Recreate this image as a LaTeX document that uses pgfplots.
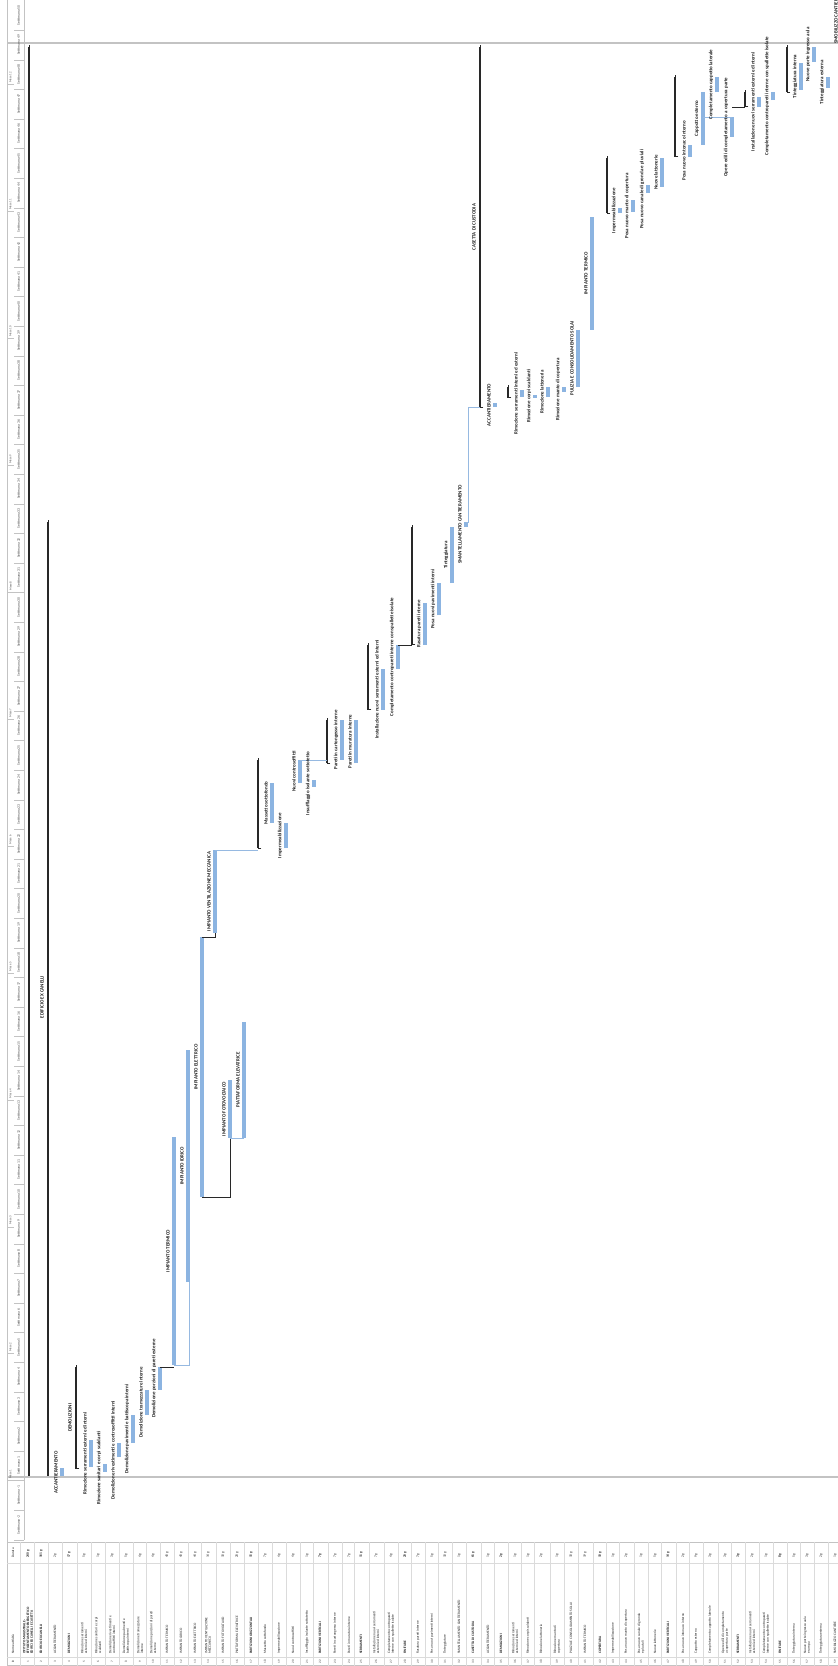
\documentclass[border=0pt]{standalone}
\usepackage{pgfplots}
\pgfplotsset{compat=1.18}
\usepackage{pgfplotstable}
\usepackage{fontspec}
\setmainfont{Carlito}

\definecolor{barblue}{RGB}{140,180,225}
\definecolor{sumdark}{RGB}{40,40,40}
\definecolor{gridgray}{RGB}{195,195,195}
\definecolor{linkblue}{RGB}{150,185,225}
\definecolor{txt}{RGB}{30,30,30}

\protected\def\nl{\\}

% Gantt chart turned on its side: x = row position (px from the left edge),
% s, e = start and end of each bar, calendar days from the project start
\pgfplotstableread[col sep=semicolon]{
x;s;e;lab
62;0;2.1;ACCANTIERAMENTO
91;2.4;8.75;Rimozione serramenti esterni ed interni
105;1.2;3.1;Rimozione sanitari e corpi scaldanti
119;4.7;8.0;Demolizione rivestimenti e controsoffitti interni
133;8.0;14.7;Demolizione pavimenti e battiscopa interni
147;14.7;20.6;Demolizione tramezzature interne
160;20.6;26.0;Demolizione porzioni di pareti esterne
174;26.5;80.4;IMPIANTO TERMICO
188;46.1;101.0;IMPIANTO IDRICO
202;66.2;127.7;IMPIANTO ELETTRICO
215;128.6;148.3;IMPIANTO VENTILAZIONE MECCANICA
230;80.2;93.9;IMPIANTO FOTOVOLTAICO
244;80.2;107.6;PIATTAFORMA ELEVATRICE
272;154.7;164.1;Massetto sottofondo
286;148.7;154.7;Impermeabilizzazione
300;164.1;169.6;Nuovi controsoffitti
314;163.2;164.8;Insufflaggio isolante sottotetto
342;169.6;179.0;Pareti in cartongesso interne
356;168.8;179.0;Pareti in muratura interne
383;181.4;191.1;Installazione nuovi serramenti esterni ed interni
398;191.1;196.8;Completamento contropareti interne con spallette isolate
425;196.8;206.7;Rasatura pareti interne
439;203.8;211.4;Posa nuovi pavimenti interni
452;211.4;224.7;Tinteggiatura
466;224.7;225.8;SMANTELLAMENTO CANTIERAMENTO
495;253.0;254.0;ACCANTIERAMENTO
522;255.4;257.1;Rimozione serramenti interni ed esterni
535;255.2;255.9;Rimozione corpi scaldanti
548;255.4;257.8;Rimozione lattoneria
564;256.6;257.8;Rimozione manto di copertura
578;257.8;271.3;PULIZIA E CONSOLIDAMENTO SOLAI
592;271.3;298.0;IMPIANTO TERMICO
620;298.9;300.1;Impermeabilizzazione
633;299.2;302.0;Posa nuovo manto di copertura
648;303.6;305.5;Posa nuovo canale di gronda e pluviali
662;305.1;311.9;Nuove lattonerie
690;312.2;315.1;Posa nuovo intonaco interno
703;315.1;327.5;Cappotto esterno
717;327.5;331.1;Completamento cappotto laterale
732;316.9;321.6;Opere edili di completamento a copertura parte
759;324.0;326.4;Installazione nuovi serramenti esterni ed interni
773;325.6;327.5;Completamento contropareti interne con spallette isolate
801;328.0;334.4;Tinteggiatura interna
814;334.6;338.2;Nuove porte ingresso aula
828;328.5;331.1;Tinteggiatura esterna
842;341.0;348.0;SMOBILIZZO CANTIERE
}\tasktab

% summary rows (black brackets), l = 1 if the bar carries a label,
% ly = where the label sits (days)
\pgfplotstableread[col sep=semicolon]{
x;s;e;l;ly;lab
29;0;338.2;0;0;-
48;0;225.8;1;113.5;EDIFICIO EX CANELLI
76;1.9;26.0;1;14.0;DEMOLIZIONI
258;148.7;169.6;0;0;-
327;168.8;179.0;0;0;-
368;181.4;196.8;0;0;-
412;196.8;224.7;0;0;-
480;253.0;338.2;1;295.6;CASETTA DI CUSTODIA
508;255.2;257.8;0;0;-
607;298.9;311.9;0;0;-
675;312.2;331.1;0;0;-
745;324.0;327.5;0;0;-
787;327.5;338.2;0;0;-
}\sumtab

% task table under the chart, f = 1 for summary rows (bold)
\pgfplotstableread[col sep=semicolon]{
x;f;name;dur
29;1;ISTITUTO MAGISTRALE -\nl EFFICIENTAMENTO ENERGETICO\nl EDIFICI EX CANELLI E CASETTA;240 g
48;1;EDIFICIO EX CANELLI;161 g
62;0;ACCANTIERAMENTO;2 g
76;1;DEMOLIZIONI;17 g
91;0;Rimozione serramenti\nl esterni ed interni;5 g
105;0;Rimozione sanitari e corpi\nl scaldanti;1 g
119;0;Demolizione rivestimenti e\nl controsoffitti interni;3 g
133;0;Demolizione pavimenti e\nl battiscopa interni;5 g
147;0;Demolizione tramezzature\nl interne;4 g
160;0;Demolizione porzioni di pareti\nl esterne;4 g
174;0;IMPIANTO TERMICO;40 g
188;0;IMPIANTO IDRICO;40 g
202;0;IMPIANTO ELETTRICO;44 g
215;0;IMPIANTO VENTILAZIONE\nl MECCANICA;14 g
230;0;IMPIANTO FOTOVOLTAICO;10 g
244;0;PIATTAFORMA ELEVATRICE;20 g
258;1;PARTIZIONI ORIZZONTALI;15 g
272;0;Massetto sottofondo;7 g
286;0;Impermeabilizzazione;4 g
300;0;Nuovi controsoffitti;4 g
314;0;Insufflaggio isolante sottotetto;1 g
327;1;PARTIZIONI VERTICALI;7 g
342;0;Pareti in cartongesso interne;7 g
356;0;Pareti in muratura interne;7 g
368;1;SERRAMENTI;11 g
383;0;Installazione nuovi serramenti\nl esterni ed interni;7 g
398;0;Completamento contropareti\nl interne con spallette isolate;4 g
412;1;FINITURE;20 g
425;0;Rasatura pareti interne;7 g
439;0;Posa nuovi pavimenti interni;5 g
452;0;Tinteggiature;10 g
466;0;SMANTELLAMENTO CANTIERAMENTO;1 g
480;1;CASETTA DI CUSTODIA;61 g
495;0;ACCANTIERAMENTO;1 g
508;1;DEMOLIZIONI;2 g
522;0;Rimozione serramenti\nl esterni ed interni;1 g
535;0;Rimozione corpi scaldanti;1 g
548;0;Rimozione lattoneria;2 g
564;0;Rimozione manto di\nl copertura;1 g
578;0;PULIZIA E CONSOLIDAMENTO SOLAI;10 g
592;0;IMPIANTO TERMICO;19 g
607;1;COPERTURA;10 g
620;0;Impermeabilizzazione;1 g
633;0;Posa nuovo manto di copertura;2 g
648;0;Posa nuovo canale di gronda\nl e pluviali;1 g
662;0;Nuove lattonerie;5 g
675;1;PARTIZIONI VERTICALI;14 g
690;0;Posa nuovo intonaco interno;2 g
703;0;Cappotto esterno;9 g
717;0;Completamento cappotto laterale;3 g
732;0;Opere edili di completamento\nl a copertura parte;3 g
745;1;SERRAMENTI;3 g
759;0;Installazione nuovi serramenti\nl esterni ed interni;2 g
773;0;Completamento contropareti\nl interne con spallette isolate;1 g
787;1;FINITURE;8 g
801;0;Tinteggiatura interna;5 g
814;0;Nuove porte ingresso aula\nl e rampa;3 g
828;0;Tinteggiatura esterna;2 g
842;0;SMOBILIZZO CANTIERE;1 g
}\rowtab

\tikzset{
  glab/.style={rotate=90, anchor=center, inner sep=0pt, text=txt,
    font=\fontsize{5}{6}\selectfont\bfseries},
  tlab/.style={rotate=90, anchor=west, inner sep=0pt, text=txt, align=left,
    font=\fontsize{3.5}{3.7}\selectfont},
  hlab/.style={rotate=90, anchor=center, inner sep=0pt, text=black!70,
    font=\fontsize{3.7}{4}\selectfont},
}

\begin{document}
\begin{tikzpicture}
\begin{axis}[
  scale only axis, width=838bp, height=1666bp,
  xmin=0, xmax=838, ymin=-44.70, ymax=349.29,
  hide axis, clip=false,
]
% task bars
\addplot [draw=none, mark=none,
  error bars/.cd, y dir=plus, y explicit, error mark=none,
  error bar style={draw=barblue, line width=4.5bp}]
  table [x=x, y=s, y error expr=\thisrow{e}-\thisrow{s}] {\tasktab};
% summary brackets
\addplot [only marks, mark=-, mark size=1.7bp,
  mark options={draw=sumdark, line width=0.9bp, xshift=1.7bp},
  error bars/.cd, y dir=plus, y explicit, error mark=-,
  error mark options={draw=sumdark, line width=0.9bp, mark size=1.7bp, xshift=1.7bp},
  error bar style={draw=sumdark, line width=1.1bp}]
  table [x=x, y=s, y error expr=\thisrow{e}-\thisrow{s}] {\sumtab};
% links between tasks
\addplot [sumdark, line width=0.5bp, mark=none] coordinates {(160,26.0) (174,26.0)};
\addplot [linkblue, line width=0.6bp, mark=none] coordinates {(174,26.5) (189,26.5) (189,46.1)};
\addplot [sumdark, line width=0.5bp, mark=none] coordinates {(202,66.2) (230,66.2) (230,80.2)};
\addplot [linkblue, line width=0.6bp, mark=none] coordinates {(230,80.2) (244,80.2)};
\addplot [sumdark, line width=0.5bp, mark=none] coordinates {(202,127.7) (215,127.7) (215,128.6)};
\addplot [linkblue, line width=0.6bp, mark=none] coordinates {(215,148.3) (258,148.3)};
\addplot [linkblue, line width=0.6bp, mark=none] coordinates {(300,169.6) (327,169.6)};
\addplot [sumdark, line width=0.5bp, mark=none] coordinates {(398,196.8) (412,196.8)};
\addplot [linkblue, line width=0.6bp, mark=none] coordinates {(466,225.8) (468,225.8) (468,253.0) (480,253.0)};
\addplot [linkblue, line width=0.6bp, mark=none] coordinates {(703,321.6) (732,321.6)};
\addplot [sumdark, line width=0.5bp, mark=none] coordinates {(732,324.0) (745,324.0)};
\end{axis}

% everything below is placed in pixels from the top left corner
\begin{scope}[shift={(current axis.north west)}, x=1bp, y=-1bp]
  % frame, project start and end lines
  \draw[gridgray, line width=0.6bp] (7,0) -- (7,1666);
  \draw[gridgray, line width=0.4bp] (24,0) -- (24,1540);
  \draw[gridgray, line width=1.6bp] (7,43) -- (838,43);
  \draw[gridgray, line width=1.6bp] (7,1477) -- (838,1477);
  % time scale: weeks
  \foreach \p in {-1,...,50}{
    \pgfmathtruncatemacro{\k}{\p<1 ? \p-1 : \p}
    \pgfmathsetmacro{\yb}{1480.5-(\p-1)*29.6}
    \draw[gridgray, line width=0.3bp] (14,\yb) -- (24,\yb);
    \node[hlab] at (18.5,{\yb-14.8}) {Settimana \k};
  }
  % time scale: months
  \foreach \m in {0,...,11}{
    \pgfmathsetmacro{\ym}{1480.5-\m*126.9}
    \pgfmathtruncatemacro{\mm}{\m+1}
    \draw[gridgray, line width=0.3bp] (7,\ym) -- (14,\ym);
    \node[hlab, anchor=west, font=\fontsize{3}{3.3}\selectfont] at (10.5,{\ym-1.5}) {Mese \mm};
  }
  % bar labels
  \pgfplotstablegetrowsof{\tasktab}
  \pgfmathtruncatemacro{\nt}{\pgfplotsretval-1}
  \foreach \i in {0,...,\nt}{
    \pgfplotstablegetelem{\i}{x}\of\tasktab \let\vx\pgfplotsretval
    \pgfplotstablegetelem{\i}{s}\of\tasktab \let\vs\pgfplotsretval
    \pgfplotstablegetelem{\i}{e}\of\tasktab \let\ve\pgfplotsretval
    \pgfplotstablegetelem{\i}{lab}\of\tasktab \let\vl\pgfplotsretval
    \node[glab] at ({\vx-6},{1477-4.2286*(\vs+\ve)/2}) {\vl};
  }
  \pgfplotstablegetrowsof{\sumtab}
  \pgfmathtruncatemacro{\ns}{\pgfplotsretval-1}
  \foreach \i in {0,...,\ns}{
    \pgfplotstablegetelem{\i}{x}\of\sumtab \let\vx\pgfplotsretval
    \pgfplotstablegetelem{\i}{ly}\of\sumtab \let\vy\pgfplotsretval
    \pgfplotstablegetelem{\i}{l}\of\sumtab \let\vf\pgfplotsretval
    \pgfplotstablegetelem{\i}{lab}\of\sumtab \let\vl\pgfplotsretval
    \ifnum\vf=1
      \node[glab] at ({\vx-6},{1477-4.2286*\vy}) {\vl};
    \fi
  }
  % task table
  \draw[gridgray, line width=0.6bp] (7,1542) -- (838,1542);
  \draw[gridgray!60, line width=0.3bp] (7,1563) -- (838,1563);
  \draw[gridgray!60, line width=0.3bp] (7,1657) -- (838,1657);
  \draw[gridgray, line width=0.6bp] (7,1665.6) -- (838,1665.6);
  \draw[gridgray!60, line width=0.3bp] (20,1542) -- (20,1666);
  \node[tlab] at (13,1654) {Nome attività};
  \node[tlab] at (13,1558) {Durata};
  \node[hlab, font=\fontsize{3.3}{3.5}\selectfont] at (13,1661.5) {ID};
  \pgfplotstablegetrowsof{\rowtab}
  \pgfmathtruncatemacro{\nr}{\pgfplotsretval-1}
  \foreach \i in {0,...,\nr}{
    \pgfplotstablegetelem{\i}{x}\of\rowtab \let\vx\pgfplotsretval
    \pgfplotstablegetelem{\i}{f}\of\rowtab \let\vf\pgfplotsretval
    \pgfplotstablegetelem{\i}{name}\of\rowtab \let\vn\pgfplotsretval
    \pgfplotstablegetelem{\i}{dur}\of\rowtab \let\vd\pgfplotsretval
    \pgfmathsetmacro{\tx}{\i==0 ? 28 : \vx-7}
    \pgfmathtruncatemacro{\rid}{\i+1}
    \ifnum\i>0
      \draw[gridgray!60, line width=0.3bp] ({\vx-14},1542) -- ({\vx-14},1666);
    \fi
    \ifnum\vf=1
      \node[tlab, font=\fontsize{3.5}{3.7}\selectfont\bfseries] at (\tx,1654) {\vn};
      \node[tlab, font=\fontsize{3.5}{3.7}\selectfont\bfseries] at (\tx,1558) {\vd};
    \else
      \node[tlab] at (\tx,1654) {\vn};
      \node[tlab] at (\tx,1558) {\vd};
    \fi
    \node[hlab, font=\fontsize{3.3}{3.5}\selectfont] at (\tx,1661.5) {\rid};
  }
\end{scope}
\pgfresetboundingbox
\useasboundingbox (current axis.south west) rectangle (current axis.north east);
\end{tikzpicture}
\end{document}
